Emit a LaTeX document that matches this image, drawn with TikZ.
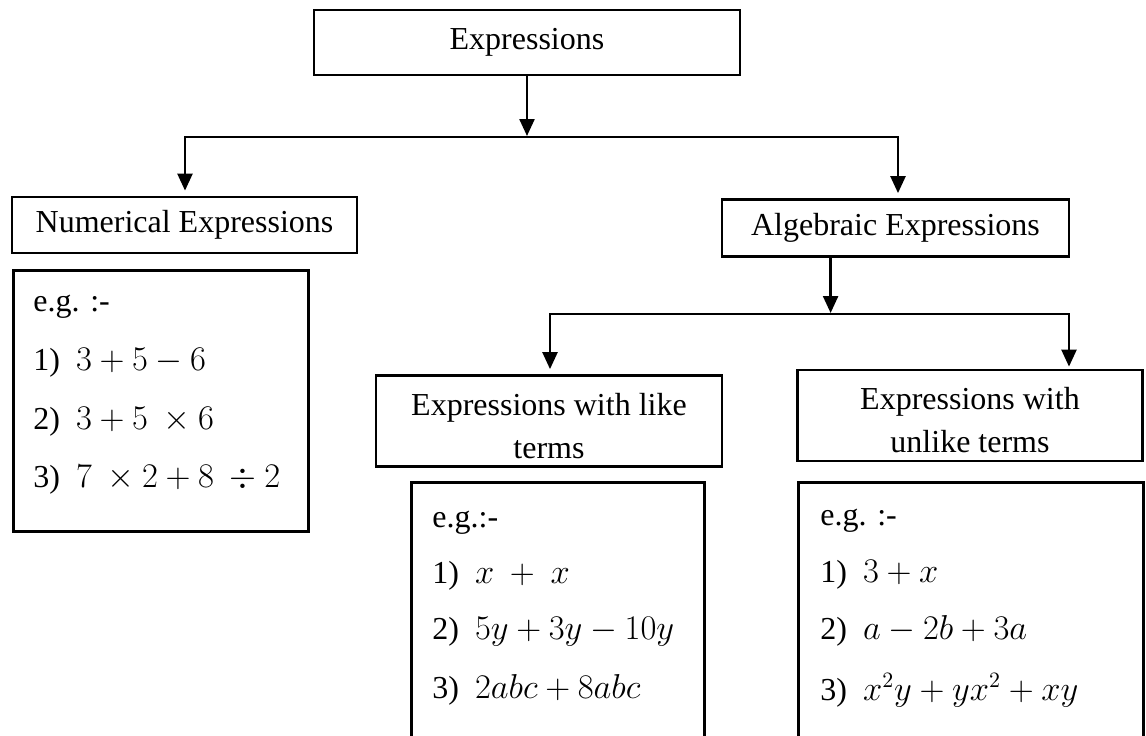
\documentclass[tikz,border=0pt]{standalone}
\usepackage{fontspec}
\setmainfont{Liberation Serif}
\usetikzlibrary{arrows.meta}
\newcommand{\twolines}[2]{\raisebox{-3.5pt}[\height][\depth]{\begin{tabular}{@{}c@{}}#1\\#2\end{tabular}}}
\begin{document}
\begin{tikzpicture}[x=0.5pt,y=-0.5pt,
  box/.style={draw, line width=1.4pt, inner sep=0pt, font=\fontsize{16}{21.5}\selectfont, align=center},
  frame/.style={draw, line width=1.4pt, inner sep=0pt, anchor=north west},
  item/.style={anchor=base west, inner sep=0pt, font=\fontsize{16}{19}\selectfont},
  conn/.style={line width=1.2pt, line cap=rect},
  arr/.style={line width=1.2pt, -{Triangle[width=7.5pt,length=8.5pt]}}]
\clip (0,0) rectangle (1146,735);
% header boxes
\node[box, minimum width=213pt, minimum height=32.5pt] (expr) at (527,42.5) {Expressions};
\node[box, minimum width=172.5pt, minimum height=28pt] (num) at (184.5,225) {Numerical Expressions};
\node[box, minimum width=173.5pt, minimum height=28.5pt] (alg) at (895.5,228) {Algebraic Expressions};
\node[box, minimum width=173pt, minimum height=45.5pt] (like) at (549,421) {\twolines{Expressions with like}{terms}};
\node[box, minimum width=172.5pt, minimum height=45.5pt] (unlike) at (970,415.5) {\twolines{Expressions with}{unlike terms}};
% example frames
\node[frame, minimum width=147.5pt, minimum height=130.5pt] (ex1) at (12,269) {};
\node[frame, minimum width=146.5pt, minimum height=150pt] (ex2) at (410,481) {};
\node[frame, minimum width=172.5pt, minimum height=150pt] (ex3) at (797,481) {};
% example texts
\node[item] (n0) at (33,311) {e.g. :-};
\node[item] (n1) at (33,370) {1)~ $3+5-6$};
\node[item] (n2) at (33,429) {2)~ $3+5\ \times 6$};
\node[item] (n3) at (33,487) {3)~ $7\ \times 2+8\ \div 2$};
\node[item] (l0) at (432,527) {e.g.:-};
\node[item] (l1) at (432,583) {1)~ $x\ +\ x$};
\node[item] (l2) at (432,639) {2)~ $5y+3y-10y$};
\node[item] (l3) at (432,698) {3)~ $2abc+8abc$};
\node[item] (u0) at (820,525) {e.g. :-};
\node[item] (u1) at (820,582) {1)~ $3+x$};
\node[item] (u2) at (820,639) {2)~ $a-2b+3a$};
\node[item] (u3) at (820,700) {3)~ $x^2y+yx^2+xy$};
% connectors, first level
\coordinate (b1L) at (185,137);
\coordinate (b1R) at (898,137);
\draw[arr] (expr.south) -- ([yshift=0.5pt]expr.south |- b1L);
\draw[conn] (b1L) -- (b1R);
\draw[arr] (b1L) -- ([yshift=2.5pt]num.north -| b1L);
\draw[arr] (b1R) -- ([yshift=2.5pt]alg.north -| b1R);
% connectors, second level
\coordinate (a1) at ([xshift=55pt]alg.south west);
\coordinate (b2L) at (550,314);
\coordinate (b2R) at (1069,314);
\draw[arr] (a1) -- ([yshift=0.5pt]a1 |- b2L);
\draw[conn] (b2L) -- (b2R);
\draw[arr] (b2L) -- ([yshift=2.5pt]like.north -| b2L);
\draw[arr] (b2R) -- ([yshift=1pt]unlike.north -| b2R);
\end{tikzpicture}
\end{document}
